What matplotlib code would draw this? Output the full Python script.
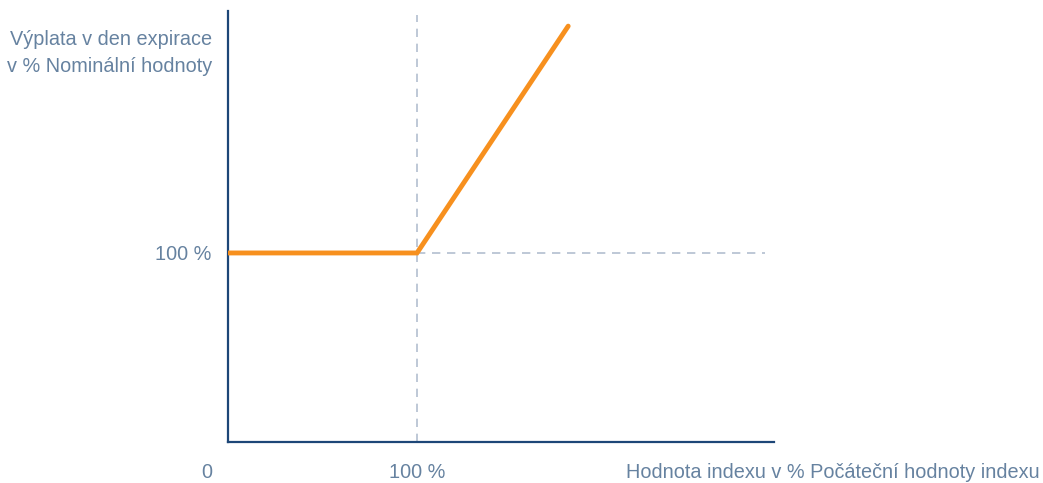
import matplotlib.pyplot as plt
import numpy as np

# payoff profile: index level (% of initial) vs payout (% of nominal)
index_pts = [0, 100, 180]
payout_pts = [100, 100, 220]

x_ticks = [100]
x_tick_labels = ["100 %"]
y_ticks = [100]
y_tick_labels = ["100 %"]

navy = "#1d4677"
txt = "#6682a0"
orange = "#f7901e"
dash = "#b3bfd0"

plt.rcParams['font.family'] = ['Liberation Sans', 'DejaVu Sans']
fs = 14.3

fig = plt.figure(figsize=(10.43, 4.83), dpi=100)
ax = fig.add_axes([228 / 1043, 41 / 483, 546 / 1043, 431 / 483])

ax.set_xlim(0, 288.9)
ax.set_ylim(0, 228)

# guide lines
ax.plot([100, 100], [0, 226], color=dash, lw=1.2, ls=(0, (5, 4)), zorder=1)
ax.plot([100, 284], [100, 100], color=dash, lw=1.2, ls=(0, (5, 4)), zorder=1)

ax.plot(index_pts, payout_pts, color=orange, lw=3.5, solid_capstyle='round',
        solid_joinstyle='miter', zorder=3)

for s in ['top', 'right']:
    ax.spines[s].set_visible(False)
for s in ['left', 'bottom']:
    ax.spines[s].set_color(navy)
    ax.spines[s].set_linewidth(1.6)

ax.set_xticks(x_ticks, x_tick_labels)
ax.set_yticks(y_ticks, y_tick_labels)
ax.tick_params(axis='x', length=0, pad=15, labelsize=fs, labelcolor=txt)
ax.tick_params(axis='y', length=0, pad=12, labelsize=fs, labelcolor=txt)

fig.text(207 / 1043, 1 - 472 / 483, "0", ha='center', va='center',
         fontsize=fs, color=txt)
fig.text(1040 / 1043, 1 - 472 / 483, "Hodnota indexu v % Počáteční hodnoty indexu",
         ha='right', va='center', fontsize=fs, color=txt)
fig.text(212 / 1043, 1 - 53 / 483, "Výplata v den expirace\nv % Nominální hodnoty",
         ha='right', va='center', fontsize=fs, color=txt, linespacing=1.55)

fig.savefig("out.png", dpi=100)
